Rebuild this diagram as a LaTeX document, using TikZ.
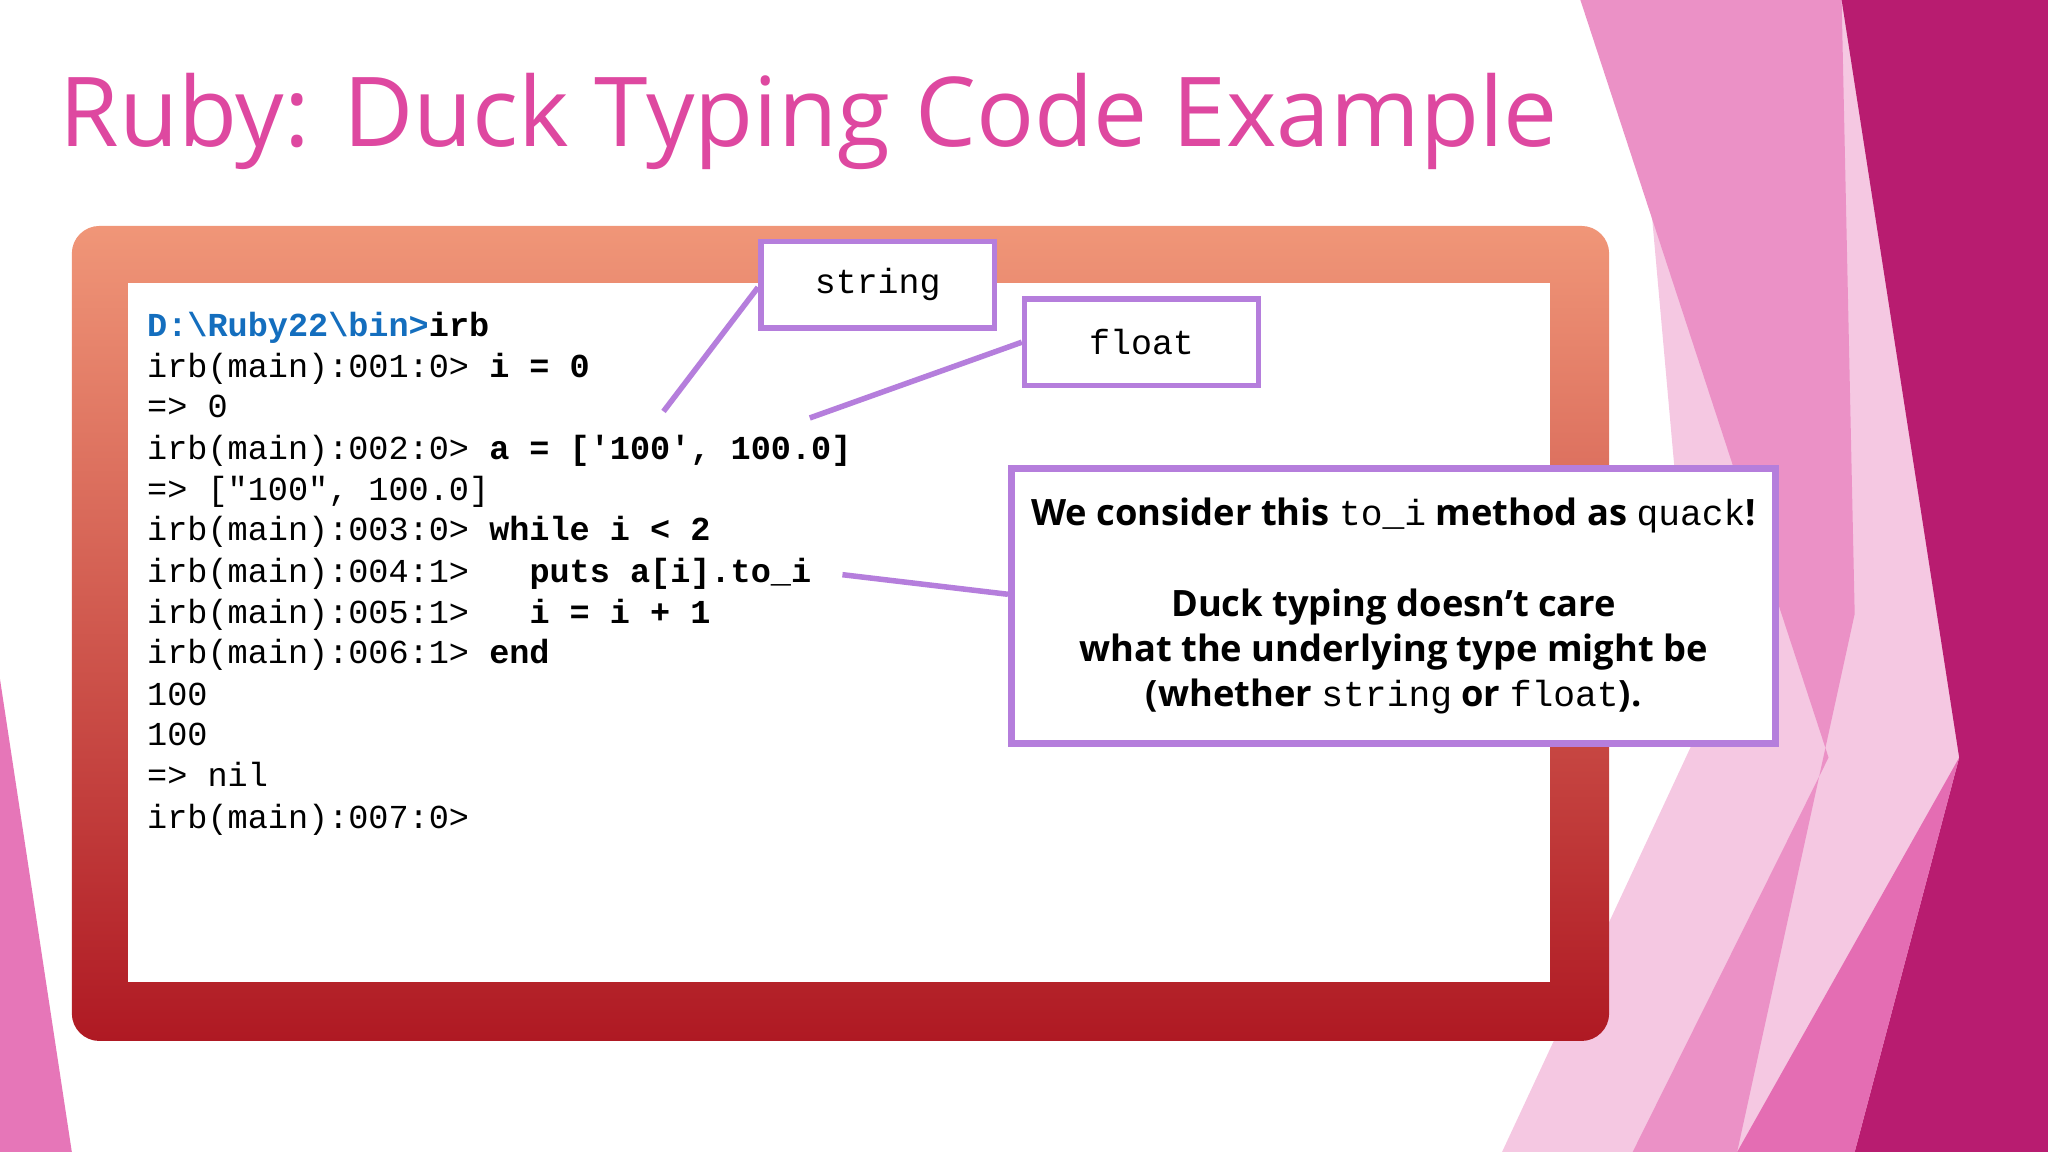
\documentclass[tikz,border=0pt]{standalone}
\usepackage{fontspec}
\setmainfont{Open Sans}
\setmonofont{Liberation Mono}
\usetikzlibrary{positioning}
\definecolor{rpink}{RGB}{222,72,160}
\definecolor{rlav}{RGB}{181,126,220}
\definecolor{rmag}{RGB}{184,28,112}
\definecolor{rblue}{RGB}{20,110,190}
\definecolor{rsalmon}{RGB}{240,150,120}
\definecolor{rred}{RGB}{220,30,40}
\definecolor{rdark}{RGB}{175,25,35}
\tikzset{
	code/.style = { anchor=base west, inner sep=0pt, font=\fontsize{7.3}{9}\selectfont\ttfamily },
	tag/.style = { draw=rlav, line width=1.2pt, fill=white, minimum width=1.79cm, minimum height=0.66cm, font=\fontsize{7.6}{9}\selectfont\ttfamily },
	lnk/.style = { draw=rlav, line width=1.2pt },
}
\begin{document}
\begin{tikzpicture}[x=0.01cm,y=-0.01cm]
\useasboundingbox (0,0) rectangle (1568,882);
% backdrop
\fill[rpink!30] (1200,0) -- (1568,0) -- (1568,882) -- (1150,882) -- (1300,560) -- (1250,0) -- cycle;
\fill[rpink!60] (1210,0) -- (1410,0) -- (1420,470) -- (1330,882) -- (1250,882) -- (1400,580) -- cycle;
\fill[rmag] (1410,0) -- (1568,0) -- (1568,882) -- (1420,882) -- (1500,580) -- cycle;
\fill[rpink!80] (1330,882) -- (1500,580) -- (1420,882) -- cycle;
\fill[rpink!75] (0,520) -- (55,882) -- (0,882) -- cycle;
% frame
\shade[top color=rsalmon, middle color=rred, bottom color=rdark, rounded corners=6pt] (55,173) rectangle (1232,797);
\fill[white] (98,217) rectangle (1187,752);
\node (title) [anchor=base west, inner sep=0pt, text=rpink, font=\fontsize{21}{25}\selectfont] at (45,112) {Ruby: Duck Typing Code Example};
% code
\node (c0) [code] at (112,258) {\textcolor{rblue}{\bfseries D:\textbackslash Ruby22\textbackslash bin>}\textbf{irb}};
\node (c1) [code] at (112,289) {irb(main):001:0> \textbf{i = 0}};
\node (c2) [code] at (112,320) {=> 0};
\node (c3) [code] at (112,352) {irb(main):002:0> \textbf{a = ['100', 100.0]}};
\node (c4) [code] at (112,383) {=> ["100", 100.0]};
\node (c5) [code] at (112,414) {irb(main):003:0> \textbf{while i < 2}};
\node (c6) [code] at (112,446) {irb(main):004:1> \textbf{\ \ puts a[i].to\_i}};
\node (c7) [code] at (112,477) {irb(main):005:1> \textbf{\ \ i = i + 1}};
\node (c8) [code] at (112,508) {irb(main):006:1> \textbf{end}};
\node (c9) [code] at (112,540) {100};
\node (c10) [code] at (112,571) {100};
\node (c11) [code] at (112,602) {=> nil};
\node (c12) [code] at (112,634) {irb(main):007:0>};
% callouts
\coordinate (strend) at (508,315);
\coordinate (fltend) at (620,320);
\coordinate (toiend) at (645,440);
\node (str) [tag] at (672,218) {string};
\node (flt) [tag] at (874,262) {float};
\node (note) [draw=rlav, line width=1.5pt, fill=white, minimum width=5.85cm, minimum height=2.1cm, inner sep=2pt, align=center, font=\fontsize{7.9}{9.8}\selectfont\bfseries] at (1067,464)
	{We consider this \texttt{\mdseries to\_i} method as \texttt{\mdseries quack}!\\[10pt]Duck typing doesn’t care\\what the underlying type might be\\(whether \texttt{\mdseries string} or \texttt{\mdseries float}).};
\draw[lnk] (str.west) ++(0,2) -- (strend);
\draw[lnk] (flt.west) -- (fltend);
\draw[lnk] (note.west) ++(0,-9) -- (toiend);
\end{tikzpicture}
\end{document}
